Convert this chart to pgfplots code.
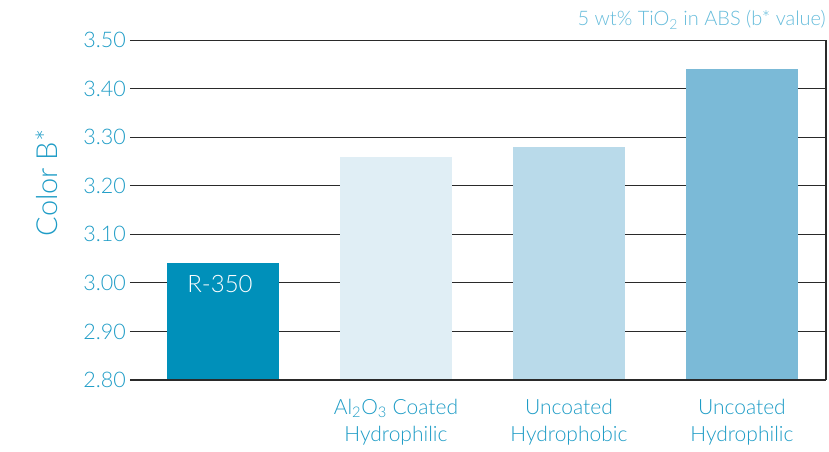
\documentclass[border=0pt]{standalone}
\usepackage{pgfplots}
\pgfplotsset{compat=1.18}
\usepackage{fontspec}
\setmainfont{Lato Light}
\definecolor{txt}{HTML}{1E9CC6}
\definecolor{ttl}{HTML}{66BCDB}
\definecolor{cA}{HTML}{0090BA}
\definecolor{cB}{HTML}{E0EEF5}
\definecolor{cC}{HTML}{B9DAEA}
\definecolor{cD}{HTML}{7BBAD7}
\definecolor{gridc}{HTML}{2A2A2A}
\begin{document}
\begin{tikzpicture}
\useasboundingbox (-130bp,-72bp) rectangle (699bp,380bp);
\begin{axis}[
  at={(0,0)}, anchor=south west,
  scale only axis, width=696bp, height=340bp,
  xmin=-0.5376, xmax=3.486, ymin=2.8, ymax=3.5,
  ytick={2.8,2.9,3.0,3.1,3.2,3.3,3.4,3.5},
  /pgf/number format/fixed, /pgf/number format/fixed zerofill, /pgf/number format/precision=2, /pgf/number format/assume math mode=true,
  yticklabel style={anchor=east, inner sep=0pt, xshift=-4bp, text=txt, font=\fontsize{21.5bp}{25bp}\selectfont},
  xtick={0,1,2,3},
  xticklabels={{},{Al\textsubscript{2}O\textsubscript{3} Coated\\Hydrophilic},{Uncoated\\Hydrophobic},{Uncoated\\Hydrophilic}},
  xticklabel style={align=center, anchor=north, inner sep=0pt, yshift=-19bp, text=txt, font=\fontsize{21bp}{27bp}\selectfont},
  major tick length=0pt,
  ymajorgrids, grid style={draw=gridc, line width=0.9bp},
  axis line style={draw=none},
  ylabel={Color B*},
  ylabel style={at={(axis description cs:-0.1193,0.58)}, anchor=center, text=txt, font=\fontsize{29bp}{30bp}\selectfont},
  clip=false,
]
\addplot[ybar, bar shift=0pt, bar width=112bp, fill=cA, draw=none] coordinates {(0,3.04)};
\addplot[ybar, bar shift=0pt, bar width=112bp, fill=cB, draw=none] coordinates {(1,3.26)};
\addplot[ybar, bar shift=0pt, bar width=112bp, fill=cC, draw=none] coordinates {(2,3.28)};
\addplot[ybar, bar shift=0pt, bar width=112bp, fill=cD, draw=none] coordinates {(3,3.44)};
\draw[gridc, line width=1.3bp] (rel axis cs:0,0) -- (rel axis cs:1,0);
\draw[gridc, line width=1.3bp] (rel axis cs:1,0) -- (rel axis cs:1,1);
\node[anchor=base, text=white, font=\fontsize{24bp}{26bp}\selectfont, yshift=-29bp, xshift=-3bp] at (axis cs:0,3.04) {R-350};
\node[anchor=base east, inner sep=0pt, text=ttl, font=\fontsize{20bp}{22bp}\selectfont, yshift=14bp] at (rel axis cs:1,1) {5 wt\% TiO\textsubscript{2} in ABS (b* value)};
\end{axis}
\end{tikzpicture}
\end{document}
